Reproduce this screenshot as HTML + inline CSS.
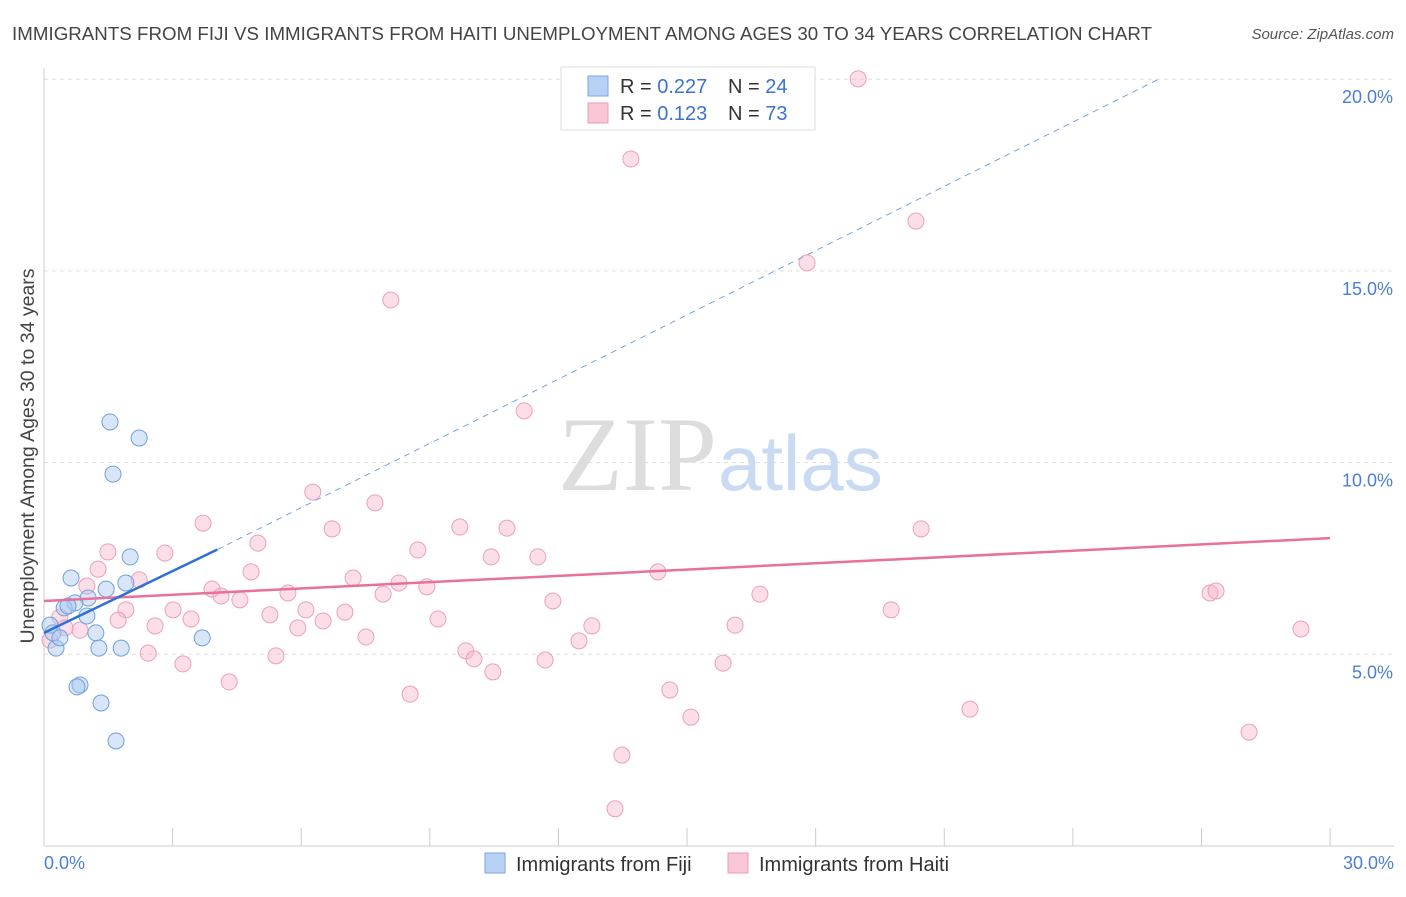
<!DOCTYPE html>
<html><head><meta charset="utf-8"><style>
body{margin:0;background:#fff;font-family:"Liberation Sans",sans-serif;}
svg text{font-family:"Liberation Sans",sans-serif;}
</style></head><body>
<svg id="c" width="1406" height="892">
<text x="12" y="40" font-size="18.7" fill="#444" textLength="1140">IMMIGRANTS FROM FIJI VS IMMIGRANTS FROM HAITI UNEMPLOYMENT AMONG AGES 30 TO 34 YEARS CORRELATION CHART</text>
<text x="1394" y="39" font-size="15" fill="#555" font-style="italic" text-anchor="end">Source: ZipAtlas.com</text>
<text x="717" y="490" font-size="106" fill="#ddd" text-anchor="end" style="font-family:'Liberation Serif',serif">ZIP</text>
<text x="718" y="490" font-size="78" fill="#c9daf3">atlas</text>
<g id="grid"></g><g id="marks"></g><g id="trends"></g>
<text transform="translate(34,456) rotate(-90)" font-size="19.5" fill="#444" text-anchor="middle">Unemployment Among Ages 30 to 34 years</text>
<text x="44" y="869" font-size="18" fill="#4a7fd4">0.0%</text>
<text x="1394" y="869" font-size="18" fill="#4a7fd4" text-anchor="end">30.0%</text>
<g>
<rect x="561" y="67" width="254" height="63" fill="#fff" stroke="#ddd"/>
<rect x="588" y="76" width="20" height="20" fill="#b7d1f5" stroke="#7ba6e3"/>
<rect x="588" y="103" width="20" height="20" fill="#f9c6d6" stroke="#eb9bb6"/>
<text x="620" y="93" font-size="20" fill="#333">R = <tspan fill="#3a73d0">0.227</tspan></text>
<text x="728" y="93" font-size="20" fill="#333">N = <tspan fill="#3a73d0">24</tspan></text>
<text x="620" y="120" font-size="20" fill="#333">R = <tspan fill="#3a73d0"> 0.123</tspan></text>
<text x="728" y="120" font-size="20" fill="#333">N = <tspan fill="#3a73d0">73</tspan></text>
</g>
<g>
<rect x="485" y="853" width="20" height="20" fill="#b7d1f5" stroke="#7ba6e3"/>
<text x="516" y="871" font-size="20" fill="#333">Immigrants from Fiji</text>
<rect x="728" y="853" width="20" height="20" fill="#f9c6d6" stroke="#eb9bb6"/>
<text x="759" y="871" font-size="20" fill="#333">Immigrants from Haiti</text>
</g>
</svg>
<script>
const yTicks=[5,10,15,20];
const yTickLabels=["5.0%","10.0%","15.0%","20.0%"];
const xTicks=[0,3,6,9,12,15,18,21,24,27,30];
const fijiX=[1.54,2.22,1.61,0.63,2.01,1.91,1.45,1.03,0.72,0.47,0.56,1.00,1.21,1.28,1.80,3.69,0.14,0.21,0.28,0.37,0.84,0.77,1.33,1.68];
const fijiY=[11.06,10.64,9.70,6.99,7.54,6.86,6.70,6.47,6.34,6.21,6.26,6.00,5.56,5.16,5.16,5.43,5.76,5.56,5.16,5.43,4.20,4.15,3.73,2.74];
const haitiX=[18.99,13.69,20.34,17.80,8.09,11.20,6.27,7.72,3.71,6.72,9.70,10.80,20.46,4.99,1.49,2.82,8.72,10.43,11.52,4.83,1.26,2.22,7.21,8.28,3.92,8.93,14.32,1.00,4.13,4.57,5.69,7.91,11.87,16.70,27.20,27.34,1.91,3.01,5.27,6.11,7.02,1.73,2.59,3.43,6.51,9.19,12.78,16.12,19.76,5.92,0.37,0.84,0.49,7.51,12.48,2.43,5.41,9.84,10.03,11.69,29.32,3.24,15.84,4.32,8.54,10.47,14.60,15.09,21.60,28.11,13.48,13.32,0.14];
const haitiY=[20.01,17.92,16.30,15.21,14.24,11.35,9.23,8.95,8.42,8.27,8.32,8.29,8.27,7.90,7.67,7.64,7.72,7.54,7.54,7.15,7.22,6.94,6.99,6.86,6.70,6.76,7.15,6.78,6.52,6.42,6.60,6.57,6.39,6.57,6.60,6.65,6.16,6.16,6.03,6.16,6.10,5.89,5.74,5.92,5.87,5.92,5.74,5.76,6.16,5.69,5.97,5.63,5.69,5.45,5.35,5.03,4.96,5.09,4.88,4.85,5.66,4.75,4.77,4.28,3.96,4.54,4.07,3.36,3.57,2.97,2.37,0.97,5.37];
const fijiTrend=[0,5.56,4.04,7.73,26.0,20.0];
const haitiTrend=[0,6.39,30,8.03];
const NS='http://www.w3.org/2000/svg';
const X=v=>44+v*42.87, Y=v=>846-v*38.34;
function mk(t,a,p){const e=document.createElementNS(NS,t);for(const k in a)e.setAttribute(k,a[k]);p.appendChild(e);return e;}
const grid=document.getElementById('grid'),marks=document.getElementById('marks'),tr=document.getElementById('trends');
yTicks.forEach((v,i)=>{
 const l=mk('line',{x1:44,x2:1394,y1:Y(v),y2:Y(v),stroke:'#ddd','stroke-dasharray':'4,4'},grid);
 
 
 const t=mk('text',{x:1393,y:Y(v)+24,'font-size':18,fill:'#4a7fd4','text-anchor':'end'},grid);
 t.textContent=yTickLabels[i];
 
 
});
const ax=mk('line',{x1:44,x2:1394,y1:846,y2:846,stroke:'#ccc'},grid);


const ay=mk('line',{x1:44,x2:44,y1:68,y2:846,stroke:'#ccc'},grid);


xTicks.forEach(v=>{
 const l=mk('line',{x1:X(v),x2:X(v),y1:828,y2:846,stroke:'#ccc'},grid);
 
 
});
haitiX.forEach((v,i)=>{
 const c=mk('circle',{cx:X(v),cy:Y(haitiY[i]),r:8,fill:'rgba(246,182,203,0.45)',stroke:'#eba0ba','stroke-width':1},marks);
 
 
});
fijiX.forEach((v,i)=>{
 const c=mk('circle',{cx:X(v),cy:Y(fijiY[i]),r:8,fill:'rgba(169,200,240,0.45)',stroke:'#6f9fe0','stroke-width':1},marks);
 
 
});
const hl=mk('line',{x1:X(haitiTrend[0]),y1:Y(haitiTrend[1]),x2:X(haitiTrend[2]),y2:Y(haitiTrend[3]),stroke:'#e8709a','stroke-width':2.5},tr);


const fd=mk('line',{x1:X(fijiTrend[2]),y1:Y(fijiTrend[3]),x2:X(fijiTrend[4]),y2:Y(fijiTrend[5]),stroke:'#7aa3dc','stroke-width':1,'stroke-dasharray':'6,5'},tr);


const fl=mk('line',{x1:X(fijiTrend[0]),y1:Y(fijiTrend[1]),x2:X(fijiTrend[2]),y2:Y(fijiTrend[3]),stroke:'#2f6fd6','stroke-width':2.5},tr);


</script>
</body></html>
